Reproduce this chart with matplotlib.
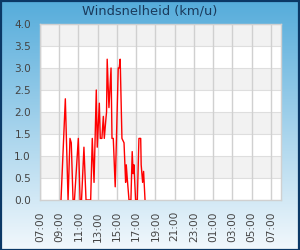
import numpy as np
import matplotlib
matplotlib.use("Agg")
import matplotlib.pyplot as plt
from matplotlib.patches import Rectangle
from datetime import datetime, timedelta

title = "Windsnelheid (km/u)"
times = ["09:11", "09:38", "09:55", "10:07", "10:15", "10:26", "10:35", "10:59",
         "11:10", "11:19", "11:34", "11:47", "12:16", "12:26", "12:37", "12:51",
         "12:57", "13:10", "13:16", "13:26", "13:35", "13:41", "13:50", "13:55",
         "13:59", "14:10", "14:23", "14:29", "14:37", "14:49", "15:08", "15:14",
         "15:20", "15:31", "15:44", "15:54", "15:58", "16:04", "16:15", "16:27",
         "16:35", "16:41", "16:46", "16:56", "17:07", "17:17", "17:28", "17:31",
         "17:40", "17:46", "17:55"]
speeds = [0, 2.3, 0, 1.4, 1.3, 0, 0, 1.4,
          0, 0, 1.2, 0, 0, 1.4, 0.4, 2.5,
          1.2, 2.2, 1.4, 1.4, 1.9, 1.4, 1.8, 2.0,
          3.2, 2.1, 3.0, 1.4, 1.4, 0.3, 3.0, 3.0,
          3.2, 1.4, 1.3, 0.4, 0.8, 0.5, 0, 0,
          1.1, 0.6, 0.8, 0, 0, 1.4, 1.4, 0.8,
          0.4, 0.65, 0]
x_tick_labels = ["07:00", "09:00", "11:00", "13:00", "15:00", "17:00", "19:00",
                 "21:00", "23:00", "01:00", "03:00", "05:00", "07:00"]
y_ticks = [0.0, 0.5, 1.0, 1.5, 2.0, 2.5, 3.0, 3.5, 4.0]

base = datetime(2024, 1, 1, 7, 0)
def to_dt(s):
    h, m = map(int, s.split(":"))
    d = base.replace(hour=h, minute=m)
    if d < base:
        d += timedelta(days=1)
    return d

xs = [to_dt(t) for t in times]
tick_pos = [base + timedelta(hours=2 * i) for i in range(len(x_tick_labels))]

fig = plt.figure(figsize=(3.0, 2.5), dpi=100)

# gradient background
bg = fig.add_axes([0, 0, 1, 1], zorder=-10)
top = np.array([0x55, 0xac, 0xdb]) / 255
bot = np.array([0xf2, 0xf8, 0xfc]) / 255
t = np.linspace(0, 1, 250)[:, None]
grad = top[None, :] * (1 - t) + bot[None, :] * t
bg.imshow(grad[:, None, :].repeat(2, axis=1), aspect="auto", extent=[0, 1, 0, 1], origin="upper")
bg.set_xlim(0, 1); bg.set_ylim(0, 1)
bg.axis("off")
fig.patches.append(Rectangle((0.002, 0.002), 0.996, 0.995, transform=fig.transFigure,
                             fill=False, edgecolor="#0b3866", linewidth=1.6, zorder=20))

ax = fig.add_axes([40 / 300, 1 - 200 / 250, 241 / 300, 176 / 250])
ax.set_facecolor("white")
for i in range(len(y_ticks) - 1):
    if i % 2 == 1:
        ax.axhspan(y_ticks[i], y_ticks[i + 1], color="#f2f2f2", lw=0, zorder=0)
for yv in y_ticks:
    ax.axhline(yv, color="#dedede", lw=0.8, zorder=0.5)
for tp in tick_pos:
    ax.axvline(tp, color="#d0d0d0", lw=1.0, zorder=0.6)

ax.plot(xs, speeds, color="#ff0000", lw=1.0, zorder=3)

ax.set_xlim(base, base + timedelta(hours=25, minutes=3))
ax.set_ylim(0, 4.0)
ax.set_yticks(y_ticks)
ax.set_yticklabels([f"{v:.1f}" for v in y_ticks])
ax.set_xticks(tick_pos)
ax.set_xticklabels(x_tick_labels, rotation=90)
ax.tick_params(axis="both", length=0, labelsize=7.6, labelcolor="#444444")
ax.tick_params(axis="y", pad=6.5)
ax.tick_params(axis="x", pad=8)
for sp in ax.spines.values():
    sp.set_color("#d0d0d0")
    sp.set_linewidth(1.0)

fig.text(0.5, 1 - 11 / 250, title, ha="center", va="center", fontsize=9.4, color="#1a3a5c")

fig.savefig("out.png", dpi=100)
